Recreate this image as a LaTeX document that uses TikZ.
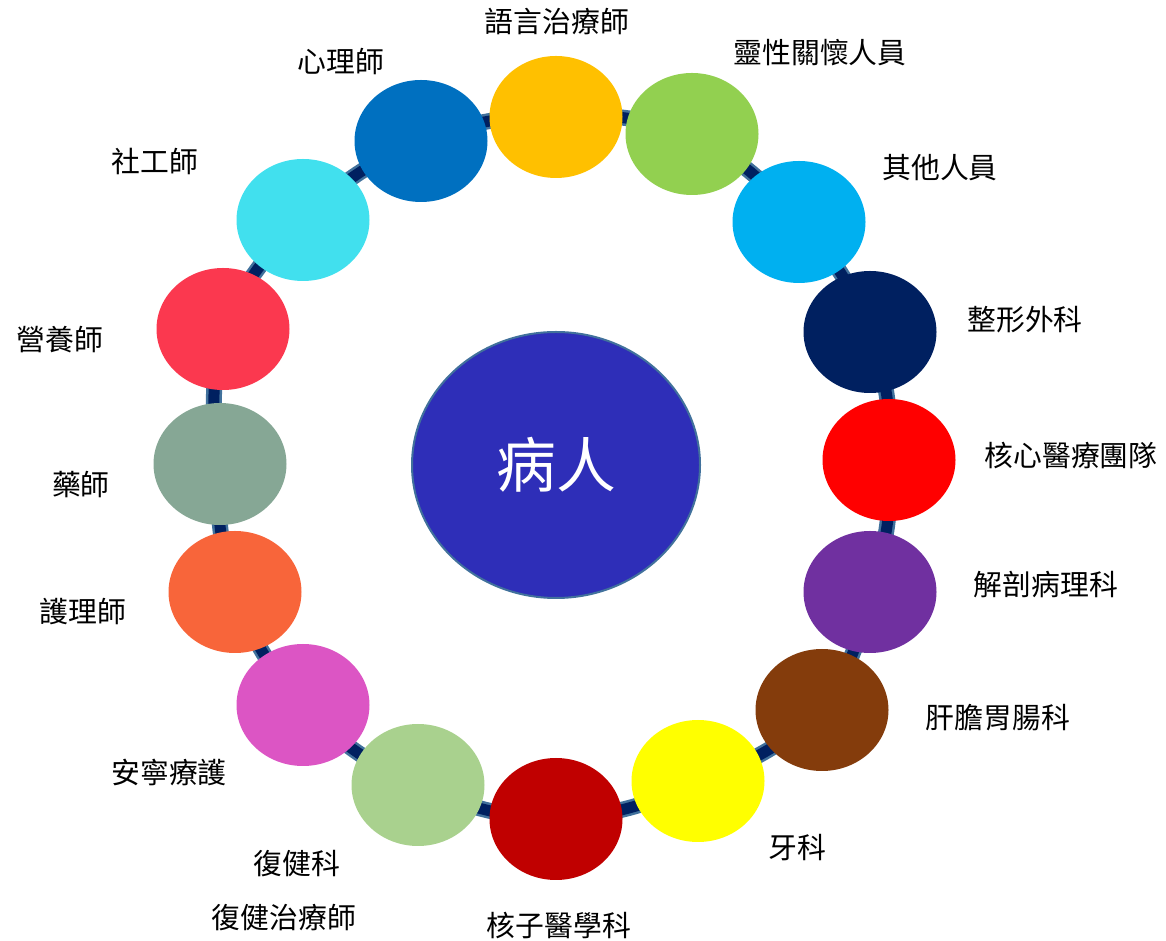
\documentclass[tikz,border=0pt]{standalone}
\usepackage{fontspec}
\newfontfamily\cjk{Noto Sans CJK TC}
\usetikzlibrary{positioning,shapes.geometric,backgrounds}

\definecolor{cGold}{HTML}{FFC000}
\definecolor{cLeaf}{HTML}{92D050}
\definecolor{cSky}{HTML}{00B0F0}
\definecolor{cNavy}{HTML}{002060}
\definecolor{cRed}{HTML}{FF0000}
\definecolor{cPurple}{HTML}{7030A0}
\definecolor{cBrown}{HTML}{843C0C}
\definecolor{cYellow}{HTML}{FFFF00}
\definecolor{cDarkRed}{HTML}{C00000}
\definecolor{cMint}{HTML}{A9D18E}
\definecolor{cPink}{HTML}{DC55C4}
\definecolor{cOrange}{HTML}{F8653A}
\definecolor{cSage}{HTML}{86A795}
\definecolor{cCoral}{HTML}{FB384F}
\definecolor{cCyan}{HTML}{41E0EE}
\definecolor{cBlue}{HTML}{0070C0}
\definecolor{patientFill}{HTML}{2E2EB8}
\definecolor{patientEdge}{HTML}{41719C}
\definecolor{ringEdge}{HTML}{41719C}
\definecolor{ringCore}{HTML}{002060}

\tikzset{
  member/.style={ellipse, minimum width=1.33cm, minimum height=1.22cm, inner sep=0pt},
  role/.style={font=\cjk\fontsize{8.2}{10}\selectfont, inner sep=0pt},
  ring/.style={draw=ringEdge, line width=0.25mm, double=ringCore, double distance=1.1mm},
}

\begin{document}
\begin{tikzpicture}
\useasboundingbox (0,0) rectangle (11.66,9.41);

% center
\node[ellipse, draw=patientEdge, line width=0.2mm, fill=patientFill,
    minimum width=2.88cm, minimum height=2.66cm, text=white,
    font=\cjk\fontsize{17}{20}\selectfont] (patient) at (5.56,4.76) {病人};

% team members round the ring
\foreach \n/\x/\y/\c in {1/5.56/8.24/cGold, 2/6.92/8.07/cLeaf, 3/7.99/7.19/cSky,
    4/8.70/6.09/cNavy, 5/8.89/4.81/cRed, 6/8.70/3.49/cPurple, 7/8.22/2.31/cBrown,
    8/6.98/1.60/cYellow, 9/5.56/1.22/cDarkRed, 10/4.18/1.56/cMint,
    11/3.03/2.36/cPink, 12/2.35/3.49/cOrange, 13/2.20/4.77/cSage,
    14/2.23/6.12/cCoral, 15/3.03/7.21/cCyan, 16/4.21/8.00/cBlue}
    \node[member, fill=\c] (m\n) at (\x,\y) {};

\begin{scope}[on background layer]
\foreach \n [evaluate=\n as \nn using {int(mod(\n,16)+1)}] in {1,...,16}
    \draw[ring] (m\n.center) to[bend left=11] (m\nn.center);
\end{scope}

% labels
\foreach \n/\x/\y/\t in {1/5.57/9.19/語言治療師, 2/8.20/8.88/靈性關懷人員,
    3/9.40/7.73/其他人員, 4/10.25/6.21/整形外科, 5/10.71/4.85/核心醫療團隊,
    6/10.46/3.56/解剖病理科, 7/9.98/2.23/肝膽胃腸科, 8/7.97/0.93/牙科,
    9/5.59/0.15/核子醫學科, 10/2.97/0.77/復健科, 11/1.69/1.69/安寧療護,
    12/0.83/3.29/護理師, 13/0.81/4.56/藥師, 14/0.60/6.01/營養師,
    15/1.55/7.79/社工師, 16/3.41/8.79/心理師}
    \node[role] (t\n) at (\x,\y) {\t};
\node[role] (t10b) at (2.84,0.23) {復健治療師};

\end{tikzpicture}
\end{document}
